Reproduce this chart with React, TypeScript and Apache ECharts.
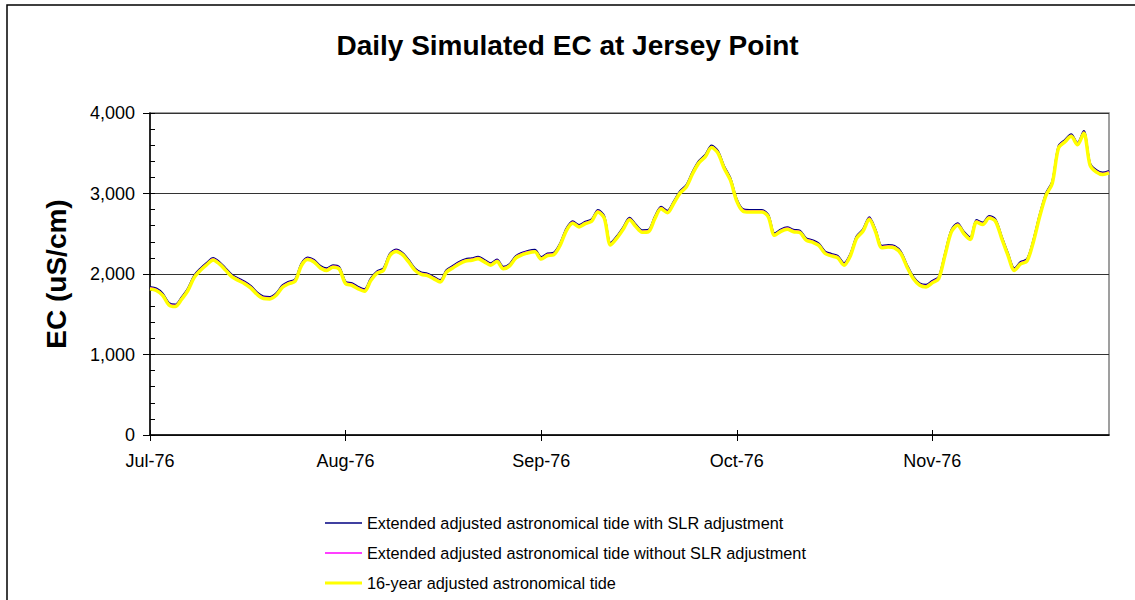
import React, { useEffect, useRef } from "react";
import * as echarts from "echarts";

const TITLE = "Daily Simulated EC at Jersey Point";
const Y_NAME = "EC (uS/cm)";

// Daily categories, 1 Jul 1976 .. 30 Nov 1976
const N_DAYS = 153;
const CATEGORIES: string[] = [];
for (let i = 0; i < N_DAYS; i++) {
  const d = new Date(Date.UTC(1976, 6, 1 + i));
  CATEGORIES.push(d.toISOString().slice(0, 10));
}
const TICK_LABELS = ["Jul-76", "Aug-76", "Sep-76", "Oct-76", "Nov-76"];
const TICK_STEP = 31;

const SERIES_NAMES = [
  "Extended adjusted astronomical tide with SLR adjustment",
  "Extended adjusted astronomical tide without SLR adjustment",
  "16-year adjusted astronomical tide",
];

const EXT_WITH_SLR = [
  1840, 1820, 1760, 1640, 1620, 1710, 1820, 1980, 2070, 2140, 2200, 2150, 2070, 1990, 1945, 1905, 1850, 1770, 1720, 1715, 1760, 1860, 1905, 1935, 2130, 2205, 2175, 2100, 2070, 2110, 2085,
  1905, 1885, 1840, 1810, 1945, 2035, 2070, 2250, 2305, 2265, 2175, 2070, 2020, 2005, 1965, 1925, 2050, 2100, 2150, 2185, 2195, 2215, 2175, 2135, 2180, 2090, 2125, 2225, 2265, 2290, 2300,
  2210, 2255, 2265, 2380, 2565, 2655, 2610, 2650, 2680, 2795, 2720, 2385, 2470, 2580, 2700, 2615, 2545, 2550, 2710, 2835, 2785, 2900, 3030, 3105, 3270, 3405, 3480, 3595, 3530, 3340, 3190,
  2930, 2805, 2795, 2795, 2795, 2735, 2505, 2555, 2580, 2550, 2540, 2445, 2420, 2380, 2280, 2250, 2225, 2135, 2250, 2470, 2555, 2705, 2550, 2350, 2360, 2350, 2280, 2110, 1965, 1885, 1865,
  1915, 1965, 2255, 2545, 2630, 2525, 2455, 2670, 2640, 2720, 2680, 2465, 2255, 2070, 2150, 2185, 2420, 2735, 3000, 3150, 3590, 3665, 3735, 3630, 3775, 3375, 3290, 3260, 3280,
];

const EXT_WITHOUT_SLR = [
  1830, 1810, 1750, 1630, 1610, 1700, 1810, 1970, 2060, 2130, 2190, 2140, 2060, 1980, 1935, 1895, 1840, 1760, 1710, 1705, 1750, 1850, 1895, 1925, 2120, 2195, 2165, 2090, 2060, 2100, 2075,
  1895, 1875, 1830, 1800, 1935, 2025, 2060, 2240, 2295, 2255, 2165, 2060, 2010, 1995, 1955, 1915, 2040, 2090, 2140, 2175, 2185, 2205, 2165, 2125, 2170, 2080, 2115, 2215, 2255, 2280, 2290,
  2200, 2245, 2255, 2370, 2555, 2645, 2600, 2640, 2670, 2785, 2710, 2375, 2460, 2570, 2690, 2605, 2535, 2540, 2700, 2825, 2775, 2890, 3020, 3095, 3260, 3395, 3470, 3585, 3520, 3330, 3180,
  2920, 2795, 2785, 2785, 2785, 2725, 2495, 2545, 2570, 2540, 2530, 2435, 2410, 2370, 2270, 2240, 2215, 2125, 2240, 2460, 2545, 2695, 2540, 2340, 2350, 2340, 2270, 2100, 1955, 1875, 1855,
  1905, 1955, 2245, 2535, 2620, 2515, 2445, 2660, 2630, 2710, 2670, 2455, 2245, 2060, 2140, 2175, 2410, 2725, 2990, 3140, 3580, 3655, 3725, 3620, 3765, 3365, 3280, 3250, 3270,
];

const SIXTEEN_YEAR = [
  1815, 1795, 1735, 1615, 1595, 1685, 1795, 1955, 2045, 2115, 2175, 2125, 2045, 1965, 1920, 1880, 1825, 1745, 1695, 1690, 1735, 1835, 1880, 1910, 2105, 2180, 2150, 2075, 2045, 2085, 2060,
  1880, 1860, 1815, 1785, 1920, 2010, 2045, 2225, 2280, 2240, 2150, 2045, 1995, 1980, 1940, 1900, 2025, 2075, 2125, 2160, 2170, 2190, 2150, 2110, 2155, 2065, 2100, 2200, 2240, 2265, 2275,
  2185, 2230, 2240, 2355, 2540, 2630, 2585, 2625, 2655, 2770, 2695, 2360, 2445, 2555, 2675, 2590, 2520, 2525, 2685, 2810, 2760, 2875, 3005, 3080, 3245, 3380, 3455, 3570, 3505, 3315, 3165,
  2905, 2780, 2770, 2770, 2770, 2710, 2480, 2530, 2555, 2525, 2515, 2420, 2395, 2355, 2255, 2225, 2200, 2110, 2225, 2445, 2530, 2680, 2525, 2325, 2335, 2325, 2255, 2085, 1940, 1860, 1840,
  1890, 1940, 2230, 2520, 2605, 2500, 2430, 2645, 2615, 2695, 2655, 2440, 2230, 2045, 2125, 2160, 2395, 2710, 2975, 3125, 3565, 3640, 3710, 3605, 3750, 3350, 3265, 3235, 3255,
];

const SERIES_DATA = [EXT_WITH_SLR, EXT_WITHOUT_SLR, SIXTEEN_YEAR];
const SERIES_COLORS = ["#000080", "#FF00FF", "#FFFF00"];
const SERIES_WIDTHS = [2, 1.5, 3.5];
const LEGEND_ICON_HEIGHTS = [1.5, 1.5, 3];

const FONT = "'Liberation Sans', Arial, Helvetica, sans-serif";

export default function App() {
  const ref = useRef<HTMLDivElement>(null);

  useEffect(() => {
    if (!ref.current) return;
    const chart = echarts.init(ref.current, undefined, { renderer: "svg" });

    const option: any = {
      animation: false,
      backgroundColor: "#ffffff",
      textStyle: { fontFamily: FONT, color: "#000" },
      title: {
        text: TITLE,
        left: "center",
        top: 26,
        textStyle: { fontFamily: FONT, fontSize: 28, fontWeight: "bold", color: "#000" },
      },
      graphic: [
        {
          type: "rect",
          silent: true,
          shape: { x: 7, y: 5, width: 1160, height: 700 },
          style: { fill: "none", stroke: "#000", lineWidth: 1.5 },
        },
      ],
      grid: {
        left: 150,
        right: 26,
        top: 113,
        bottom: 165,
        show: true,
        borderColor: "#808080",
        borderWidth: 1.5,
        backgroundColor: "#fff",
      },
      legend: SERIES_NAMES.map((name, i) => ({
        data: [name],
        left: 325,
        top: 513 + i * 30,
        padding: 0,
        icon: "rect",
        itemWidth: 37,
        itemHeight: LEGEND_ICON_HEIGHTS[i],
        selectedMode: false,
        textStyle: { fontFamily: FONT, fontSize: 16.3, color: "#000", lineHeight: 20 },
      })),
      xAxis: [
        {
          type: "category",
          data: CATEGORIES,
          boundaryGap: false,
          axisLine: { lineStyle: { color: "#000", width: 1.5 } },
          axisTick: { interval: TICK_STEP - 1, length: 6, lineStyle: { color: "#000" } },
          axisLabel: {
            interval: TICK_STEP - 1,
            formatter: (_v: string, i: number) => TICK_LABELS[Math.round(i / TICK_STEP)] ?? "",
            fontFamily: FONT,
            fontSize: 18,
            color: "#000",
            margin: 17,
          },
          splitLine: { show: false },
        },
        {
          type: "category",
          data: CATEGORIES,
          boundaryGap: false,
          position: "bottom",
          axisLine: { show: false },
          axisTick: { inside: true, interval: TICK_STEP - 1, length: 5, lineStyle: { color: "#000" } },
          axisLabel: { show: false },
          splitLine: { show: false },
        },
      ],
      yAxis: [
        {
          type: "value",
          min: 0,
          max: 4000,
          interval: 1000,
          name: Y_NAME,
          nameLocation: "middle",
          nameGap: 80,
          nameTextStyle: { fontFamily: FONT, fontSize: 28, fontWeight: "bold", color: "#000" },
          axisLine: { show: true, lineStyle: { color: "#000", width: 1.5 } },
          axisTick: { show: true, length: 7, lineStyle: { color: "#000" } },
          axisLabel: {
            formatter: (v: number) => v.toLocaleString("en-US"),
            fontFamily: FONT,
            fontSize: 18,
            color: "#000",
            margin: 15,
          },
          splitLine: { show: true, lineStyle: { color: "#333", width: 1 } },
        },
        {
          type: "value",
          min: 0,
          max: 4000,
          interval: 200,
          position: "left",
          axisLine: { show: false },
          axisTick: { show: true, inside: true, length: 5, lineStyle: { color: "#000" } },
          axisLabel: { show: false },
          splitLine: { show: false },
        },
      ],
      series: SERIES_NAMES.map((name, i) => ({
        name,
        type: "line",
        data: SERIES_DATA[i],
        symbol: "none",
        smooth: 0.3,
        color: SERIES_COLORS[i],
        itemStyle: { color: SERIES_COLORS[i] },
        lineStyle: { color: SERIES_COLORS[i], width: SERIES_WIDTHS[i] },
      })),
    };

    chart.setOption(option);
    return () => chart.dispose();
  }, []);

  return (
    <div
      ref={ref}
      style={{ position: "absolute", left: 0, top: 0, width: 1135, height: 600 }}
    />
  );
}
